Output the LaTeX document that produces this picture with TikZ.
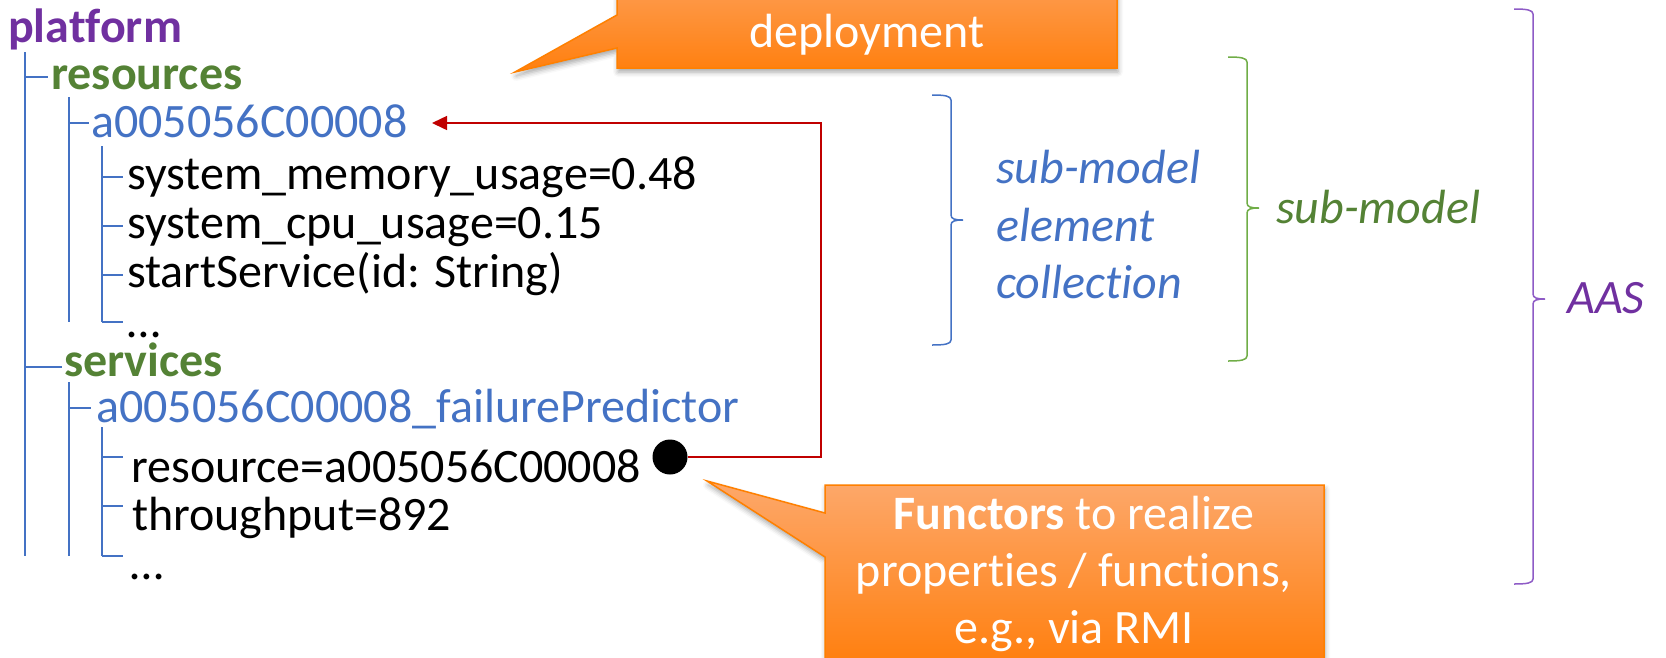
\documentclass[tikz,border=0pt]{standalone}
\usepackage{fontspec}
\setmainfont{Carlito}[Ligatures=NoCommon]
\usetikzlibrary{arrows.meta,shadows.blur}

\definecolor{aaspurple}{HTML}{7030A0}
\definecolor{bracepurple}{HTML}{8E5BC6}
\definecolor{smgreen}{HTML}{548235}
\definecolor{bracegreen}{HTML}{70AD47}
\definecolor{elemblue}{HTML}{4472C4}
\definecolor{linkred}{HTML}{C00000}
\definecolor{calloutlight}{HTML}{FDA86B}
\definecolor{calloutdark}{HTML}{FF7F0E}
\definecolor{calloutedge}{HTML}{FF8000}

\tikzset{
  treeline/.style={draw=elemblue, line width=1.5pt},
  entry/.style={anchor=base west, inner sep=0pt},
  callout/.style={top color=calloutlight, bottom color=calloutdark,
    draw=calloutedge, line width=1.5pt, line join=miter,
    blur shadow={shadow xshift=1pt, shadow yshift=-4pt,
      shadow blur radius=5pt, shadow opacity=35}},
  calloutText/.style={anchor=base, inner sep=0pt, text=white},
}

% right-hand curly bracket: x of the stem, top, middle tick, bottom, colour
\newcommand\sidebrace[5]{%
  \draw[#5, line width=1.5pt]
    (#1-19,#2) .. controls (#1-6,#2) and (#1,#2+1) .. (#1,#2+5)
    -- (#1,#3-5) .. controls (#1,#3-1) and (#1+4,#3) .. (#1+12,#3)
       .. controls (#1+4,#3) and (#1,#3+1) .. (#1,#3+5)
    -- (#1,#4-5) .. controls (#1,#4-1) and (#1-6,#4) .. (#1-19,#4);}

\begin{document}
\begin{tikzpicture}[x=1pt, y=-1pt,
  every node/.style={font=\fontsize{48}{57}\selectfont}]
\useasboundingbox (0,0) rectangle (1666,657);
\clip (0,0) rectangle (1666,657);

% ---- tree of the platform ----
\node[entry, text=aaspurple, font=\fontsize{48}{57}\selectfont\bfseries] (platform) at (8,42) {platform};
\node[entry, text=smgreen, font=\fontsize{48}{57}\selectfont\bfseries] (resources) at (51,89) {resources};
\node[entry, text=elemblue] (res1) at (91,137) {a005056C00008};
\node[entry] (mem) at (127,189) {system\_memory\_usage=0.48};
\node[entry] (cpu) at (127,238) {system\_cpu\_usage=0.15};
\node[entry] (start) at (127,287) {startService(id: String)};
\node[entry, text depth=0pt] (more1) at (127,337) {…};
\node[entry, text=smgreen, font=\fontsize{48}{57}\selectfont\bfseries] (services) at (64,376) {services};
\node[entry, text=elemblue] (svc1) at (96,422) {a005056C00008\_failurePredictor};
\node[entry] (resref) at (131,482) {resource=a005056C00008};
\node[entry] (thr) at (132,530) {throughput=892};
\node[entry, text depth=0pt] (more2) at (130,579) {…};

% outline lines
\draw[treeline] (25,52) -- (25,556);
\draw[treeline] (25,77) -- (48,77);
\draw[treeline] (25,367) -- (62,367);
\draw[treeline] (69,97) -- (69,322);
\draw[treeline] (69,123) -- (89,123);
\draw[treeline] (102,146) -- (102,322);
\foreach \y in {177,226,275,322} \draw[treeline] (102,\y) -- (123,\y);
\draw[treeline] (69,382) -- (69,556);
\draw[treeline] (69,408) -- (91,408);
\draw[treeline] (102,427) -- (102,556);
\foreach \y in {457,506,556} \draw[treeline] (102,\y) -- (123,\y);

% ---- functor reference ----
\node[circle, fill=black, inner sep=0pt, minimum size=35pt] (dot) at (670,457) {};
\coordinate (bend) at (821,457);
\coordinate (tipA) at (432,123);
\draw[linkred, line width=1.5pt, -{Triangle[length=15pt,width=14pt]}]
  (dot.east) -- (bend) |- (tipA);

% ---- brackets ----
\sidebrace{951}{95}{220}{345}{elemblue}
\node[entry, text=elemblue, font=\fontsize{48}{57}\selectfont\itshape] (sme1) at (996,183) {sub-model};
\node[entry, text=elemblue, font=\fontsize{48}{57}\selectfont\itshape] (sme2) at (996,241) {element};
\node[entry, text=elemblue, font=\fontsize{48}{57}\selectfont\itshape] (sme3) at (996,298) {collection};

\sidebrace{1247}{57}{208}{361}{bracegreen}
\node[entry, text=smgreen, font=\fontsize{48}{57}\selectfont\itshape] (sm) at (1276,223) {sub-model};

\sidebrace{1533}{9}{299}{584}{bracepurple}
\node[entry, text=aaspurple, font=\fontsize{48}{57}\selectfont\itshape] (aas) at (1567,313) {AAS};

% ---- callouts ----
\path[callout] (617,-54) -- (1117,-54) -- (1117,68) -- (617,68)
  -- (617,48) -- (515,72) -- (617,15) -- cycle;
\node[calloutText] (dep) at (867,47) {deployment};

\path[callout] (825,485) -- (1324,485) -- (1324,664) -- (825,664)
  -- (825,557) -- (707,481) -- (825,513) -- cycle;
\node[calloutText] (fun1) at (1074,529) {\textbf{Functors} to realize};
\node[calloutText] (fun2) at (1074,586) {properties / functions,};
\node[calloutText] (fun3) at (1074,643) {e.g., via RMI};
\end{tikzpicture}
\end{document}
